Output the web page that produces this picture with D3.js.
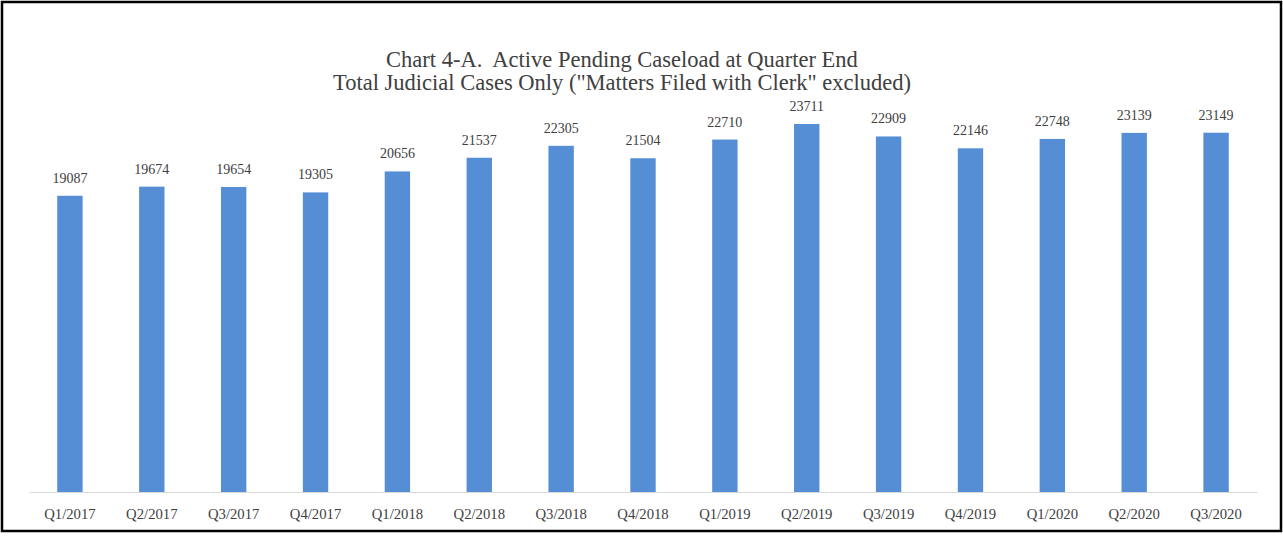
<!DOCTYPE html>
<html>
<head>
<meta charset="utf-8">
<title>Chart 4-A. Active Pending Caseload at Quarter End</title>
<style>
  body { margin: 0; background: #fff; }
  text { font-family: "Liberation Serif", "Times New Roman", serif; fill: #404040; }
</style>
</head>
<body>
<script src="https://d3js.org/d3.v7.min.js"></script>
<script>
// chart data
const quarters = ["Q1/2017", "Q2/2017", "Q3/2017", "Q4/2017", "Q1/2018", "Q2/2018", "Q3/2018", "Q4/2018",
                  "Q1/2019", "Q2/2019", "Q3/2019", "Q4/2019", "Q1/2020", "Q2/2020", "Q3/2020"];
const caseload = [19087, 19674, 19654, 19305, 20656, 21537, 22305, 21504,
                  22710, 23711, 22909, 22146, 22748, 23139, 23149];
const titleLines = ["Chart 4-A.  Active Pending Caseload at Quarter End",
                    "Total Judicial Cases Only (\"Matters Filed with Clerk\" excluded)"];

const width = 1283, height = 536;
const plot = { left: 29, right: 1257, top: 104, bottom: 492 };

const svg = d3.select("body").append("svg")
    .attr("width", width)
    .attr("height", height);

// outer frame
svg.append("rect")
    .attr("x", 2).attr("y", 2)
    .attr("width", 1279).attr("height", 529)
    .attr("fill", "#fff")
    .attr("stroke", "#000")
    .attr("stroke-width", 2.5);

const x = d3.scaleBand()
    .domain(quarters)
    .range([plot.left, plot.right])
    .paddingInner(0.69)
    .paddingOuter(0.345);

const y = d3.scaleLinear()
    .domain([0, 25000])
    .range([plot.bottom, plot.top]);

// title
svg.append("text")
    .attr("text-anchor", "middle")
    .style("font-size", "22.5px")
    .selectAll("tspan")
    .data(titleLines)
    .join("tspan")
    .attr("x", 622)
    .attr("y", (d, i) => 67 + i * 22.5)
    .attr("xml:space", "preserve")
    .style("white-space", "pre")
    .text(d => d);

// bars
svg.selectAll("rect.bar")
    .data(caseload)
    .join("rect")
    .attr("class", "bar")
    .attr("x", (d, i) => x(quarters[i]))
    .attr("width", x.bandwidth())
    .attr("y", d => y(d))
    .attr("height", d => y(0) - y(d))
    .attr("fill", "#558ED5");

// value labels
svg.selectAll("text.val")
    .data(caseload)
    .join("text")
    .attr("class", "val")
    .attr("x", (d, i) => x(quarters[i]) + x.bandwidth() / 2)
    .attr("y", d => y(d) - 13)
    .attr("text-anchor", "middle")
    .style("font-size", "14px")
    .text(d => d);

// x axis
const xAxis = svg.append("g")
    .attr("transform", `translate(0,${plot.bottom})`)
    .call(d3.axisBottom(x).tickSize(0).tickPadding(17));
xAxis.select(".domain").attr("stroke", "#d9d9d9").attr("stroke-width", 1.2);
xAxis.selectAll("text")
    .style("font-family", "'Liberation Serif', 'Times New Roman', serif")
    .style("font-size", "14.7px")
    .attr("fill", "#404040");
</script>
</body>
</html>
